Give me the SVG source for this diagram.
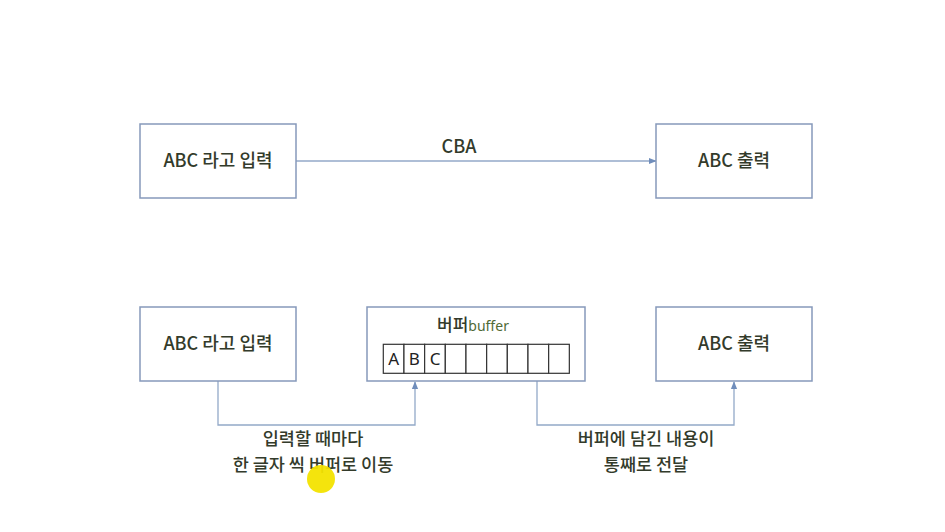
<svg xmlns="http://www.w3.org/2000/svg" width="945" height="532" viewBox="0 0 945 532">
<defs>
<style>
.box{fill:#fff;stroke:#8699bb;stroke-width:1.5}
.t{font-family:"Noto Sans CJK KR","Noto Sans",sans-serif;fill:#333b2b;text-anchor:middle;font-weight:500}
.b{font-size:18px}
.lb{font-size:17.5px}
.cell{fill:#fff;stroke:#333;stroke-width:1.2}
.c{font-family:"Noto Sans","Noto Sans CJK KR",sans-serif;font-size:17px;fill:#222;text-anchor:middle}
.ln{fill:none;stroke:#93a9c8;stroke-width:1.3}
</style>
<marker id="ah" viewBox="0 0 10 10" refX="9" refY="5" markerWidth="6" markerHeight="6" orient="auto-start-reverse">
<path d="M0,1 L10,5 L0,9 z" fill="#6f8dbb"/>
</marker>
</defs>
<rect width="945" height="532" fill="#fff"/>
<g id="connectors">
<line class="ln" x1="296" y1="161" x2="656" y2="161" marker-end="url(#ah)"/>
<polyline class="ln" points="218,381 218,425 415,425 415,382" marker-end="url(#ah)"/>
<polyline class="ln" points="537,381 537,425 734,425 734,382" marker-end="url(#ah)"/>
</g>
<g id="label-cba"><text class="t" x="459" y="153" font-size="18">CBA</text></g>
<g id="in1"><rect class="box" x="140" y="124" width="156" height="74"/><text class="t b" x="218" y="167">ABC 라고 입력</text></g>
<g id="out1"><rect class="box" x="656" y="124" width="156" height="74"/><text class="t b" x="734" y="167">ABC 출력</text></g>
<g id="in2"><rect class="box" x="140" y="307" width="156" height="74"/><text class="t b" x="218" y="350">ABC 라고 입력</text></g>
<g id="out2"><rect class="box" x="656" y="307" width="156" height="74"/><text class="t b" x="734" y="350">ABC 출력</text></g>
<g id="buffer">
<rect class="box" x="367" y="307" width="218" height="74"/>
<text class="t" x="473" y="331" font-size="17">버퍼<tspan font-size="14" font-weight="400" fill="#4f6a36" font-family="Noto Sans, sans-serif">buffer</tspan></text>
<g>
<rect class="cell" x="383.3" y="344.3" width="20.67" height="29"/>
<rect class="cell" x="403.97" y="344.3" width="20.67" height="29"/>
<rect class="cell" x="424.64" y="344.3" width="20.67" height="29"/>
<rect class="cell" x="445.31" y="344.3" width="20.67" height="29"/>
<rect class="cell" x="465.98" y="344.3" width="20.67" height="29"/>
<rect class="cell" x="486.65" y="344.3" width="20.67" height="29"/>
<rect class="cell" x="507.32" y="344.3" width="20.67" height="29"/>
<rect class="cell" x="527.99" y="344.3" width="20.67" height="29"/>
<rect class="cell" x="548.66" y="344.3" width="20.67" height="29"/>
</g>
<text class="c" x="393.6" y="365">A</text>
<text class="c" x="414.3" y="365">B</text>
<text class="c" x="435" y="365">C</text>
</g>
<g id="label-left">
<text class="t lb" x="313" y="445">입력할 때마다</text>
<text class="t lb" x="313" y="470.5">한 글자 씩 버퍼로 이동</text>
</g>
<g id="label-right">
<text class="t lb" x="646" y="445">버퍼에 담긴 내용이</text>
<text class="t lb" x="646" y="470.5">통째로 전달</text>
</g>
<circle cx="321" cy="479" r="14" fill="#f3e300" opacity="0.95"/>
</svg>
